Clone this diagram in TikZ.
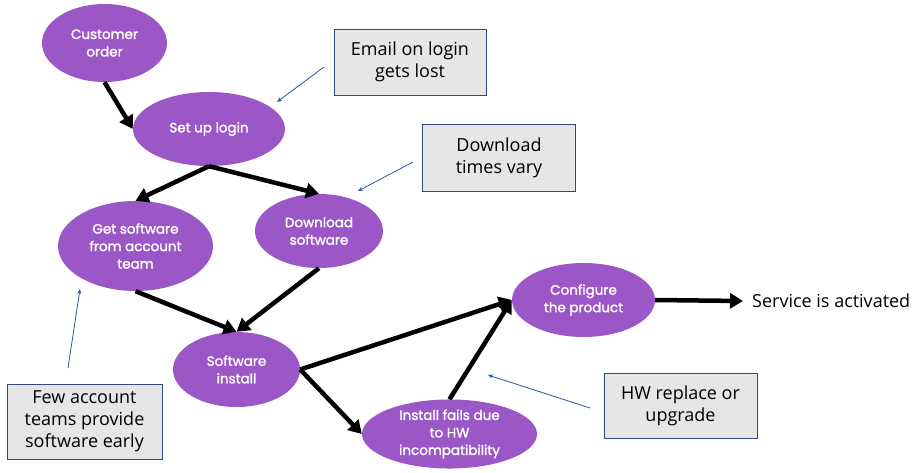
\documentclass[tikz,border=0pt]{standalone}
\usepackage{fontspec}
\setmainfont{Open Sans}
\newfontfamily\stepfont[FakeBold=1.6]{Poppins}
\usepackage{tikz}
\usepackage{xcolor}
\usetikzlibrary{arrows.meta,calc,positioning,shapes.geometric}
\definecolor{stepfill}{HTML}{9B57C6}
\definecolor{notefill}{HTML}{E7E6E6}
\definecolor{noteline}{HTML}{2F4A80}
\definecolor{pointer}{HTML}{2E5597}
\tikzset{%
	stepnode/.style = {ellipse, fill=stepfill, inner sep=0pt, text=white, align=center, font=\stepfont\fontsize{13.5}{17.5}\selectfont}, % process step
	notebox/.style  = {draw=noteline, line width=0.8pt, fill=notefill, rectangle, inner sep=0pt, align=center, font=\fontsize{18}{22}\selectfont}, % issue
	endtext/.style  = {anchor=west, inner sep=0pt, inner xsep=9pt, font=\fontsize{18}{22}\selectfont}, % result
	flow/.style     = {-{Triangle[length=13pt,width=15pt]}, line width=4.5pt}, % main path
	hint/.style     = {-{Stealth[length=5pt,width=4pt]}, draw=pointer, line width=0.8pt}, % issue pointer
}
\begin{document}
\begin{tikzpicture}[x=1pt, y=-1pt]
		\useasboundingbox (0,0) rectangle (923,473);
		\node[stepnode, minimum width=125pt, minimum height=78pt] (order) at (104.5,43) {Customer\\order};
		\node[stepnode, minimum width=152pt, minimum height=74pt] (login) at (209,129) {Set up login};
		\node[stepnode, minimum width=155pt, minimum height=90pt] (getsw) at (135.5,246) {Get software\\from account\\team};
		\node[stepnode, minimum width=128pt, minimum height=74pt] (download) at (319,231) {Download\\software};
		\node[stepnode, minimum width=127pt, minimum height=75pt] (install) at (236.5,369.5) {Software\\install};
		\node[stepnode, minimum width=175pt, minimum height=62pt] (fails) at (449.5,434) {Install fails due\\to HW\\incompatibility};
		\node[stepnode, minimum width=143pt, minimum height=74pt] (config) at (583.5,300) {Configure\\the product};
		\node[endtext] (service) at (743,301) {Service is activated};
		\node[notebox, minimum width=152pt, minimum height=66pt] (email) at (410,62) {Email on login\\gets lost};
		\node[notebox, minimum width=153pt, minimum height=67pt] (times) at (499,157.5) {Download\\times vary};
		\node[notebox, minimum width=155pt, minimum height=75pt] (few) at (84.5,421.5) {Few account\\teams provide\\software early};
		\node[notebox, minimum width=153pt, minimum height=65pt] (hw) at (680.5,405.5) {HW replace or\\upgrade};
		% pointer ends
		\coordinate (emailA) at (324,67);
		\coordinate (emailB) at (277,102);
		\coordinate (timesA) at (413,162);
		\coordinate (timesB) at (358,191);
		\coordinate (fewA) at (68,368);
		\coordinate (fewB) at (80,289);
		\coordinate (hwA) at (590,408);
		\coordinate (hwB) at (488,375);
		\draw[flow] (order.south) -- (login.west);
		\draw[flow] (login.south) -- (getsw.north);
		\draw[flow] (login.south) -- (download.north);
		\draw[flow] (getsw.south) -- (install.north);
		\draw[flow] (download.south) -- (install.north);
		\draw[flow] (install.east) -- (config.west);
		\draw[flow] (install.east) -- (fails.west);
		\draw[flow] (fails.north) -- (config.west);
		\draw[flow] (config.east) -- (service.west);
		\draw[hint] (emailA) -- (emailB);
		\draw[hint] (timesA) -- (timesB);
		\draw[hint] (fewA) -- (fewB);
		\draw[hint] (hwA) -- (hwB);
		\end{tikzpicture}
\end{document}
